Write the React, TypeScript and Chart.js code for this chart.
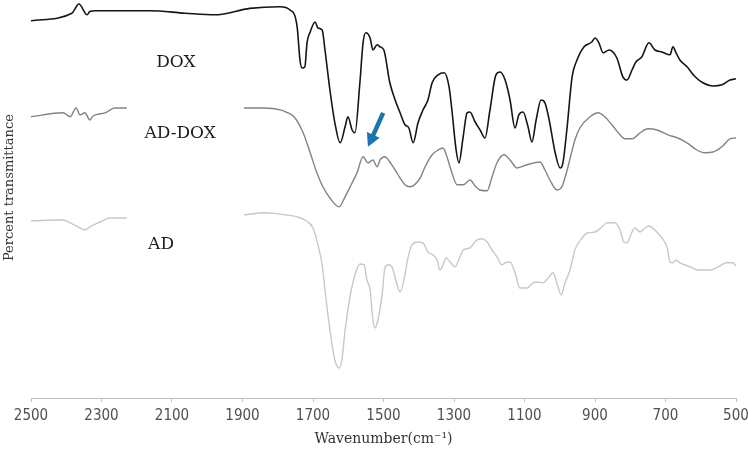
import { useEffect, useRef } from "react";
import { Chart, registerables } from "chart.js";

Chart.register(...registerables);

// ---- data ----
const xTickValues = [2500, 2300, 2100, 1900, 1700, 1500, 1300, 1100, 900, 700, 500];

const doxWavenumber = [
  2500, 2384, 2364, 2341, 2333, 2318, 2162, 2063, 1978, 1879,
  1794, 1765, 1745, 1737, 1731, 1723, 1717, 1708, 1694, 1686,
  1674, 1666, 1652, 1638, 1623, 1609, 1601, 1589, 1581, 1567,
  1558, 1550, 1538, 1530, 1518, 1510, 1499, 1482, 1467, 1453,
  1439, 1428, 1416, 1402, 1388, 1374, 1362, 1345, 1328, 1314,
  1306, 1294, 1286, 1274, 1263, 1255, 1240, 1226, 1212, 1198,
  1181, 1169, 1155, 1141, 1127, 1116, 1104, 1090, 1079, 1067,
  1053, 1042, 1030, 1013, 999, 991, 979, 965, 951, 931,
  909, 900, 889, 877, 860, 838, 821, 809, 795, 784,
  767, 747, 730, 710, 687, 679, 670, 659, 639, 616,
  594, 565, 540, 517, 500,
];
const doxT = [
  94.3, 96.2, 98.5, 95.8, 96.6, 96.8, 96.8, 96.2, 95.8, 97.4,
  97.8, 97.0, 92.8, 84.5, 82.5, 82.8, 88.8, 91.5, 94.0, 92.5,
  92.0, 87.0, 77.0, 68.8, 63.8, 67.8, 70.3, 67.0, 66.3, 78.8,
  88.8, 91.3, 90.0, 87.0, 88.3, 87.8, 87.0, 78.8, 74.5, 71.3,
  68.3, 67.5, 63.8, 68.8, 72.0, 74.5, 78.8, 80.8, 81.3, 77.8,
  72.0, 62.0, 58.8, 65.3, 71.3, 71.5, 69.0, 67.0, 65.0, 72.0,
  80.8, 81.5, 79.5, 74.5, 67.5, 70.8, 71.5, 67.8, 64.0, 69.5,
  74.5, 73.8, 69.5, 61.3, 57.5, 58.8, 67.8, 80.3, 84.5, 87.8,
  89.0, 90.0, 88.8, 86.3, 87.0, 85.0, 80.3, 79.5, 82.0, 84.0,
  85.3, 88.8, 87.0, 86.5, 85.8, 87.8, 86.3, 84.5, 82.8, 80.3,
  78.8, 78.0, 78.3, 79.5, 79.8,
];

const adDoxWavenumber = [
  2500, 2409, 2389, 2372, 2361, 2347, 2333, 2324, 2290, 2262,
  2228, 2100, 1896, 1850, 1808, 1771, 1751, 1728, 1708, 1689,
  1672, 1652, 1626, 1609, 1589, 1575, 1558, 1544, 1530, 1518,
  1510, 1496, 1482, 1467, 1453, 1439, 1425, 1396, 1382, 1362,
  1345, 1331, 1320, 1306, 1291, 1274, 1255, 1238, 1226, 1206,
  1192, 1178, 1158, 1141, 1121, 1093, 1056, 1042, 1028, 1008,
  994, 979, 957, 943, 914, 891, 872, 852, 829, 815,
  795, 772, 750, 724, 693, 665, 639, 611, 588, 565,
  540, 517, 500,
];
const adDoxT = [
  70.3, 71.3, 70.3, 72.5, 70.8, 71.3, 69.5, 70.5, 71.3, 72.5,
  72.5, null, 72.5, 72.5, 72.3, 71.3, 70.0, 66.3, 61.3, 56.3,
  52.8, 50.0, 47.8, 50.3, 53.8, 56.3, 60.3, 58.8, 59.5, 57.8,
  59.5, 60.3, 59.0, 57.0, 55.0, 53.3, 52.8, 55.0, 57.8, 60.8,
  62.0, 62.5, 60.3, 56.3, 53.3, 53.3, 54.5, 52.8, 52.0, 51.8,
  55.3, 58.8, 60.8, 59.5, 57.5, 58.3, 59.0, 57.0, 54.5, 52.0,
  52.8, 57.0, 64.5, 67.5, 70.3, 71.3, 70.3, 68.3, 65.8, 64.8,
  64.8, 66.3, 67.3, 67.0, 65.8, 65.0, 63.8, 62.0, 61.3, 61.5,
  62.8, 64.8, 65.0,
];

const adWavenumber = [
  2500, 2409, 2389, 2361, 2347, 2333, 2304, 2276, 2228, 2100,
  1896, 1836, 1779, 1745, 1723, 1700, 1686, 1674, 1666, 1652,
  1638, 1626, 1618, 1609, 1595, 1581, 1567, 1555, 1547, 1538,
  1530, 1524, 1516, 1504, 1496, 1487, 1476, 1465, 1453, 1442,
  1430, 1419, 1402, 1388, 1374, 1360, 1348, 1340, 1331, 1323,
  1311, 1297, 1283, 1274, 1255, 1238, 1221, 1206, 1192, 1178,
  1164, 1155, 1141, 1127, 1113, 1093, 1076, 1062, 1048, 1033,
  1019, 1005, 996, 985, 971, 957, 937, 920, 900, 880,
  866, 843, 829, 818, 809, 795, 787, 772, 758, 747,
  730, 710, 696, 687, 679, 670, 659, 630, 608, 574,
  551, 526, 508, 500,
];
const adT = [
  44.3, 44.5, 43.8, 42.5, 42.0, 42.8, 44.0, 45.0, 45.0, null,
  45.8, 46.3, 45.8, 45.3, 44.5, 42.5, 38.3, 33.3, 27.0, 17.0,
  9.5, 7.5, 9.5, 17.0, 25.3, 30.8, 33.5, 33.3, 29.5, 27.0,
  19.5, 17.5, 19.5, 25.8, 32.5, 33.3, 32.8, 29.5, 26.5, 29.5,
  35.3, 38.3, 39.0, 38.8, 36.5, 35.8, 34.5, 32.0, 33.3, 35.0,
  34.0, 32.8, 35.3, 37.0, 37.5, 39.3, 39.8, 39.0, 37.0, 35.3,
  33.3, 33.8, 34.0, 31.3, 27.5, 27.5, 28.8, 29.0, 28.8, 30.0,
  31.3, 27.8, 25.8, 28.8, 32.0, 37.0, 40.0, 41.3, 41.5, 42.8,
  43.8, 43.8, 42.0, 39.0, 38.8, 41.5, 42.5, 41.5, 42.5, 43.0,
  42.0, 40.0, 37.8, 34.0, 33.8, 34.5, 33.8, 32.8, 32.0, 32.0,
  32.8, 33.8, 33.8, 33.0,
];

const seriesNames = ["DOX", "AD-DOX", "AD"];

// annotation anchors in data units (wavenumber, transmittance)
const labelWavenumbers = [2089, 2077, 2131];
const labelT = [83.9, 66.1, 38.3];
const arrowWavenumbers = [1501, 1544]; // tail, tip
const arrowT = [71.3, 62.8];

const zip = (xs: number[], ys: (number | null)[]) =>
  xs.slice(0, Math.min(xs.length, ys.length)).map((x, i) => ({ x, y: ys[i] }));

const annotationPlugin = {
  id: "ftirAnnotations",
  afterDatasetsDraw(chart: any) {
    const { ctx, scales } = chart;
    const xs = scales.x;
    const ys = scales.y;
    ctx.save();
    ctx.font = '17px "DejaVu Serif", serif';
    ctx.fillStyle = "#1c1c1c";
    ctx.textAlign = "center";
    ctx.textBaseline = "middle";
    seriesNames.forEach((name, i) => {
      ctx.fillText(name, xs.getPixelForValue(labelWavenumbers[i]), ys.getPixelForValue(labelT[i]));
    });
    const x0 = xs.getPixelForValue(arrowWavenumbers[0]);
    const y0 = ys.getPixelForValue(arrowT[0]);
    const x1 = xs.getPixelForValue(arrowWavenumbers[1]);
    const y1 = ys.getPixelForValue(arrowT[1]);
    const dx = x1 - x0;
    const dy = y1 - y0;
    const len = Math.hypot(dx, dy);
    const ux = dx / len;
    const uy = dy / len;
    const headLen = 13;
    const headHalf = 7;
    const bx = x1 - ux * headLen;
    const by = y1 - uy * headLen;
    const color = "#1b75ad";
    ctx.strokeStyle = color;
    ctx.fillStyle = color;
    ctx.lineWidth = 4.5;
    ctx.lineCap = "butt";
    ctx.beginPath();
    ctx.moveTo(x0, y0);
    ctx.lineTo(bx + ux, by + uy);
    ctx.stroke();
    ctx.beginPath();
    ctx.moveTo(x1, y1);
    ctx.lineTo(bx - uy * headHalf, by + ux * headHalf);
    ctx.lineTo(bx + uy * headHalf, by - ux * headHalf);
    ctx.closePath();
    ctx.fill();
    ctx.restore();
  },
};

export default function App() {
  const canvasRef = useRef<HTMLCanvasElement | null>(null);

  useEffect(() => {
    if (!canvasRef.current) return;
    const chart = new Chart(canvasRef.current, {
      type: "line",
      data: {
        datasets: [
          {
            label: seriesNames[0],
            data: zip(doxWavenumber, doxT),
            borderColor: "#151515",
            borderWidth: 1.6,
            pointRadius: 0,
            cubicInterpolationMode: "monotone",
            spanGaps: false,
          },
          {
            label: seriesNames[1],
            data: zip(adDoxWavenumber, adDoxT),
            borderColor: "#8a8084",
            borderWidth: 1.4,
            pointRadius: 0,
            cubicInterpolationMode: "monotone",
            spanGaps: false,
          },
          {
            label: seriesNames[2],
            data: zip(adWavenumber, adT),
            borderColor: "#cbc6c7",
            borderWidth: 1.4,
            pointRadius: 0,
            cubicInterpolationMode: "monotone",
            spanGaps: false,
          },
        ],
      } as any,
      options: {
        responsive: false,
        animation: false,
        layout: { padding: { top: 2, right: 12, bottom: 0, left: 0 } },
        plugins: {
          legend: { display: false },
          tooltip: { enabled: false },
        },
        scales: {
          x: {
            type: "linear",
            reverse: true,
            min: 500,
            max: 2500,
            afterBuildTicks: (s: any) => {
              s.ticks = xTickValues.map((v) => ({ value: v }));
            },
            afterFit: (s: any) => {
              s.height = 56;
              s.paddingLeft = 0;
              s.paddingRight = 12;
            },
            grid: {
              display: true,
              drawOnChartArea: false,
              drawTicks: true,
              tickLength: 4,
              color: "#c0c0c0",
            },
            border: { display: true, color: "#c0c0c0", width: 1 },
            ticks: {
              color: "#505050",
              autoSkip: false,
              maxRotation: 0,
              padding: 5,
              callback: (v: any) => String(v),
              font: {
                family: '"Liberation Sans Narrow", "DejaVu Sans Condensed", "DejaVu Sans", sans-serif',
                size: 15,
              },
            },
            title: {
              display: true,
              text: "Wavenumber(cm⁻¹)",
              color: "#333333",
              font: { family: '"DejaVu Serif", serif', size: 14 },
              padding: { top: 0, bottom: 6 },
            },
          },
          y: {
            min: 0,
            max: 99,
            afterFit: (s: any) => {
              s.width = 31;
            },
            ticks: { display: false },
            grid: { display: false },
            border: { display: false },
            title: {
              display: true,
              text: "      Percent transmittance",
              color: "#333333",
              font: { family: '"DejaVu Serif", serif', size: 13 },
              padding: { top: 2, bottom: 0 },
            },
          },
        },
      } as any,
      plugins: [annotationPlugin],
    });
    return () => chart.destroy();
  }, []);

  return (
    <div style={{ position: "fixed", left: 0, top: 0, width: 748, height: 454, background: "#ffffff" }}>
      <canvas ref={canvasRef} width={748} height={454} style={{ display: "block" }} />
    </div>
  );
}
